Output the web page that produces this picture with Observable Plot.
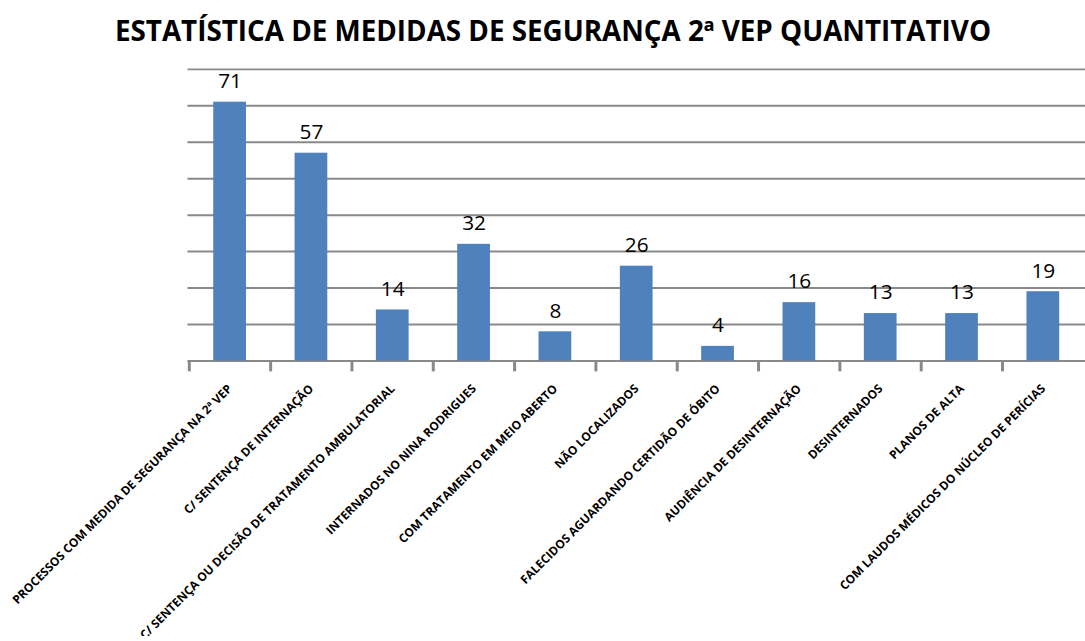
<!DOCTYPE html>
<html>
<head>
<meta charset="utf-8">
<script src="https://cdn.jsdelivr.net/npm/d3@7"></script>
<script src="https://cdn.jsdelivr.net/npm/@observablehq/plot@0.6"></script>
<style>
  html, body { margin: 0; padding: 0; background: #fff; overflow: hidden; }
  #title { width: 1106px; height: 55px; line-height: 60px; text-align: center; font-family: "Open Sans", sans-serif; font-weight: 700; font-size: 27.8px; color: #000; white-space: nowrap; }
  #chart svg { display: block; }
</style>
</head>
<body>
<div id="title">ESTATÍSTICA DE MEDIDAS DE SEGURANÇA 2ª VEP QUANTITATIVO</div>
<div id="chart"></div>
<script>
const categories = [
  "PROCESSOS COM MEDIDA DE SEGURANÇA NA 2ª VEP",
  "C/ SENTENÇA DE INTERNAÇÃO",
  "C/ SENTENÇA OU DECISÃO DE TRATAMENTO AMBULATORIAL",
  "INTERNADOS NO NINA RODRIGUES",
  "COM TRATAMENTO EM MEIO ABERTO",
  "NÃO LOCALIZADOS",
  "FALECIDOS AGUARDANDO CERTIDÃO DE ÓBITO",
  "AUDIÊNCIA DE DESINTERNAÇÃO",
  "DESINTERNADOS",
  "PLANOS DE ALTA",
  "COM LAUDOS MÉDICOS DO NÚCLEO DE PERÍCIAS"
];
const values = [71, 57, 14, 32, 8, 26, 4, 16, 13, 13, 19];
const yTicks = [0, 10, 20, 30, 40, 50, 60, 70, 80];

const data = categories.map((c, i) => ({category: c, value: values[i]}));

const width = 1094, height = 586;
const marginLeft = 189, marginRight = 0, marginTop = 14, marginBottom = 278;
const step = (width - marginLeft - marginRight) / categories.length;

const chart = Plot.plot({
  width, height, marginLeft, marginRight, marginTop, marginBottom,
  style: {fontFamily: "Open Sans, sans-serif", background: "#fff"},
  x: {domain: categories, padding: 0.6, paddingOuter: 0.3, axis: null},
  y: {domain: [0, 80], axis: null},
  marks: [
    Plot.ruleY(yTicks, {stroke: "#898989", strokeWidth: 2}),
    Plot.barY(data, {x: "category", y: "value", fill: "#4F81BD"}),
    Plot.text(data, {x: "category", y: "value", text: d => String(d.value), dy: -21, fontSize: 21, fill: "#000", fontFamily: "Open Sans, sans-serif"}),
    Plot.axisX({ticks: categories, tickSize: 11, tickFormat: () => "", dx: -step / 2, stroke: "#898989", strokeWidth: 3, label: null}),
    Plot.axisX({ticks: categories, tickSize: 0, tickPadding: 26, tickRotate: -45, textAnchor: "end", fontSize: 12, fontWeight: 700, fill: "#000", label: null, style: {letterSpacing: "0.7px"}})
  ]
});
document.getElementById("chart").appendChild(chart);
</script>
</body>
</html>
